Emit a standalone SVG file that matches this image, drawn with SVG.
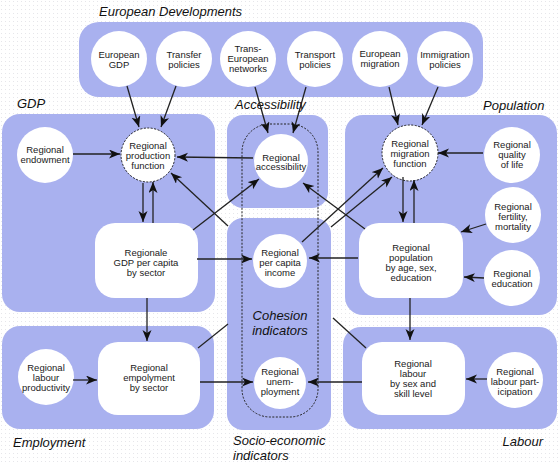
<svg xmlns="http://www.w3.org/2000/svg" width="560" height="463" viewBox="0 0 560 463">
<defs>
<pattern id="dots" width="4" height="4" patternUnits="userSpaceOnUse"><rect width="4" height="4" fill="#ffffff"/><rect x="1" y="1" width="1" height="1" fill="#e6e6ea"/></pattern>
<marker id="ah" markerUnits="userSpaceOnUse" markerWidth="12" markerHeight="10" refX="11" refY="4.5" orient="auto"><path d="M0,0 L11,4.5 L0,9 L3,4.5 z" fill="#111"/></marker>
<style>
.panel{fill:#a9b1ef}
.title{font-family:"Liberation Sans",Arial,sans-serif;font-size:13px;font-style:italic;fill:#111}
.node{fill:#fff}
.dot{fill:#fff;stroke:#222;stroke-width:1;stroke-dasharray:2,1.5}
.t{font-family:"Liberation Sans",Arial,sans-serif;font-size:9.5px;fill:#1a1a1a;text-anchor:middle}
.c{fill:none;stroke:#222;stroke-width:1.3}
.a{marker-end:url(#ah)}
</style>
</defs>
<rect width="560" height="463" fill="url(#dots)"/>
<g id="panels">
<rect class="panel" x="79" y="22" width="404" height="75" rx="20"/>
<rect class="panel" x="2" y="114" width="213" height="198" rx="18"/>
<rect class="panel" x="227" y="115" width="101" height="93" rx="16"/>
<rect class="panel" x="345" y="115" width="212" height="200" rx="18"/>
<rect class="panel" x="227" y="218" width="104" height="212" rx="16"/>
<rect class="panel" x="2" y="326" width="212" height="103" rx="18"/>
<rect class="panel" x="343" y="327" width="214" height="102" rx="18"/>
<rect x="242" y="124" width="76" height="293" rx="28" fill="none" stroke="#222" stroke-width="1" stroke-dasharray="2,1.5"/>
</g>
<g id="titles">
<text class="title" x="99" y="16">European Developments</text>
<text class="title" x="17" y="108">GDP</text>
<text class="title" x="235" y="109">Accessibility</text>
<text class="title" x="483" y="110">Population</text>
<text class="title" x="280" y="320" text-anchor="middle">Cohesion</text>
<text class="title" x="280" y="335" text-anchor="middle">indicators</text>
<text class="title" x="13" y="447">Employment</text>
<text class="title" x="233" y="445">Socio-economic</text>
<text class="title" x="233" y="460">indicators</text>
<text class="title" x="543" y="446" text-anchor="end">Labour</text>
</g>
<g id="european-gdp"><circle class="node" cx="119" cy="59" r="28"/><text class="t" x="119" y="58">European</text><text class="t" x="119" y="68">GDP</text></g>
<g id="transfer-policies"><circle class="node" cx="184" cy="59" r="28"/><text class="t" x="184" y="58">Transfer</text><text class="t" x="184" y="68">policies</text></g>
<g id="trans-european-networks"><circle class="node" cx="248" cy="59" r="28"/><text class="t" x="248" y="52">Trans-</text><text class="t" x="248" y="62">European</text><text class="t" x="248" y="72">networks</text></g>
<g id="transport-policies"><circle class="node" cx="315" cy="59" r="28"/><text class="t" x="315" y="58">Transport</text><text class="t" x="315" y="68">policies</text></g>
<g id="european-migration"><circle class="node" cx="380" cy="59" r="28"/><text class="t" x="380" y="57">European</text><text class="t" x="380" y="67">migration</text></g>
<g id="immigration-policies"><circle class="node" cx="445" cy="59" r="28"/><text class="t" x="445" y="58">Immigration</text><text class="t" x="445" y="68">policies</text></g>
<g id="regional-endowment"><circle class="node" cx="45" cy="155" r="28"/><text class="t" x="45" y="152.5">Regional</text><text class="t" x="45" y="162.5">endowment</text></g>
<g id="production-function"><circle class="dot" cx="148" cy="155" r="27"/><text class="t" x="148" y="148.5">Regional</text><text class="t" x="148" y="158.5">production</text><text class="t" x="148" y="168.5">function</text></g>
<g id="regional-accessibility"><circle class="node" cx="281" cy="161" r="27"/><text class="t" x="281" y="160.5">Regional</text><text class="t" x="281" y="170">accessibility</text></g>
<g id="migration-function"><circle class="dot" cx="410" cy="153" r="28"/><text class="t" x="410" y="146.5">Regional</text><text class="t" x="410" y="156.5">migration</text><text class="t" x="410" y="166.5">function</text></g>
<g id="quality-of-life"><circle class="node" cx="512" cy="155" r="28"/><text class="t" x="512" y="148">Regional</text><text class="t" x="512" y="158">quality</text><text class="t" x="512" y="168">of life</text></g>
<g id="fertility-mortality"><circle class="node" cx="513" cy="215" r="28"/><text class="t" x="513" y="210">Regional</text><text class="t" x="513" y="220">fertility,</text><text class="t" x="513" y="230">mortality</text></g>
<g id="regional-education"><circle class="node" cx="512" cy="278" r="28"/><text class="t" x="512" y="276.5">Regional</text><text class="t" x="512" y="286.5">education</text></g>
<g id="per-capita-income"><circle class="node" cx="280" cy="261" r="27"/><text class="t" x="280" y="255.5">Regional</text><text class="t" x="280" y="265.5">per capita</text><text class="t" x="280" y="275.5">income</text></g>
<g id="regional-unemployment"><circle class="node" cx="280" cy="383" r="26"/><text class="t" x="280" y="374.5">Regional</text><text class="t" x="280" y="384.5">unem-</text><text class="t" x="280" y="394.5">ployment</text></g>
<g id="labour-productivity"><circle class="node" cx="46" cy="377" r="28"/><text class="t" x="46" y="370.5">Regional</text><text class="t" x="46" y="380.5">labour</text><text class="t" x="46" y="390.5">productivity</text></g>
<g id="labour-participation"><circle class="node" cx="515" cy="380" r="28"/><text class="t" x="515" y="374.5">Regional</text><text class="t" x="515" y="384.5">labour part-</text><text class="t" x="515" y="394.5">icipation</text></g>
<g id="gdp-per-capita"><rect class="node" x="95" y="223" width="103" height="75" rx="20"/><text class="t" x="146" y="255.5">Regionale</text><text class="t" x="146" y="265.5">GDP per capita</text><text class="t" x="146" y="275.5">by sector</text></g>
<g id="population"><rect class="node" x="359" y="223" width="104" height="75" rx="20"/><text class="t" x="411" y="250.5">Regional</text><text class="t" x="411" y="260.5">population</text><text class="t" x="411" y="270.5">by age, sex,</text><text class="t" x="411" y="280.5">education</text></g>
<g id="employment"><rect class="node" x="98" y="342" width="102" height="73" rx="20"/><text class="t" x="149" y="370.5">Regional</text><text class="t" x="149" y="380.5">empolyment</text><text class="t" x="149" y="390.5">by sector</text></g>
<g id="labour"><rect class="node" x="362" y="342" width="103" height="73" rx="20"/><text class="t" x="413" y="366.5">Regional</text><text class="t" x="413" y="376.5">labour</text><text class="t" x="413" y="386.5">by sex and</text><text class="t" x="413" y="396.5">skill level</text></g>
<g id="connectors">
<path class="c a" d="M127,86 L139,127"/>
<path class="c a" d="M176,86 L161,127"/>
<path class="c a" d="M255,87 L268,133"/>
<path class="c a" d="M306,87 L293,133"/>
<path class="c a" d="M389,87 L398,125"/>
<path class="c a" d="M438,87 L422,125"/>
<path class="c a" d="M73,154 L120,154"/>
<path class="c a" d="M253,158 L177,157"/>
<path class="c a" d="M143,183 L143,222"/>
<path class="c a" d="M153,223 L153,182"/>
<path class="c a" d="M193,230 L259,179"/>
<path class="c a" d="M228,226 L171,173"/>
<path class="c a" d="M365,229 L303,183"/>
<path class="c a" d="M302,242 L383,168"/>
<path class="c a" d="M331,227 L392,177"/>
<path class="c a" d="M403,177 L403,222"/>
<path class="c a" d="M414,223 L414,180"/>
<path class="c a" d="M483,153 L438,153"/>
<path class="c a" d="M486,224 L461,232"/>
<path class="c a" d="M484,278 L464,277"/>
<path class="c a" d="M197,259 L252,259"/>
<path class="c a" d="M358,258 L309,258"/>
<path class="c a" d="M147,298 L147,341"/>
<path class="c a" d="M410,298 L410,340"/>
<path class="c a" d="M73,380 L97,380"/>
<path class="c a" d="M200,382 L253,382"/>
<path class="c a" d="M362,382 L308,382"/>
<path class="c a" d="M487,379 L466,379"/>
<path class="c" d="M198,348 L228,324"/>
<path class="c" d="M333,318 L366,348"/>
</g>
</svg>
